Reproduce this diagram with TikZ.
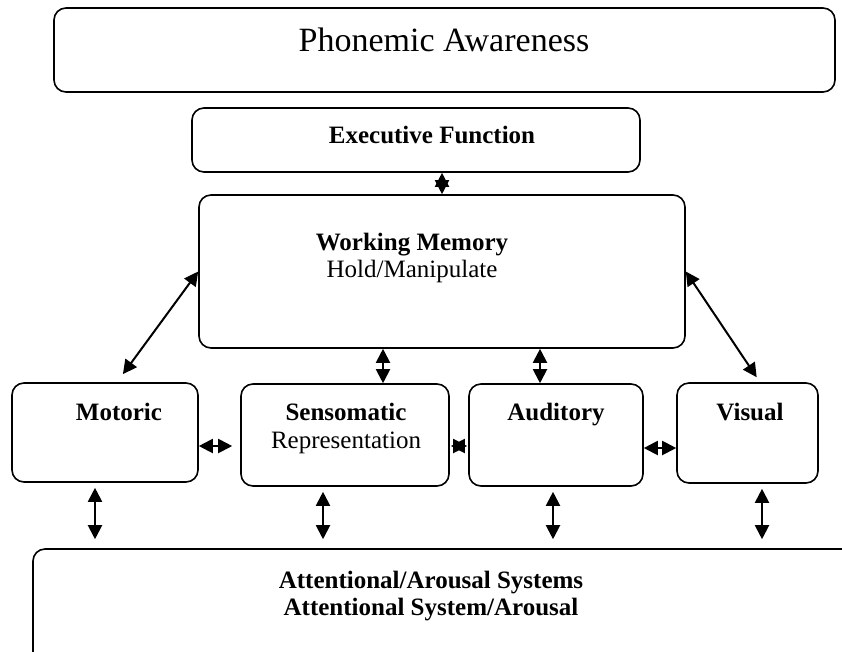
\documentclass[tikz,border=0pt]{standalone}
\usepackage{fontspec}
\setmainfont{Liberation Serif}
\usetikzlibrary{arrows.meta,positioning}

\begin{document}
\begin{tikzpicture}[x=1pt, y=-1pt, >={Triangle[length=14pt,width=14pt]},
  box/.style={draw, line width=1.6pt, rounded corners=12pt},
  title/.style={anchor=base, font=\fontsize{25}{30}\selectfont\bfseries},
  sub/.style={anchor=base, font=\fontsize{25}{30}\selectfont},
  link/.style={<->, line width=2pt}]
  \useasboundingbox (0,0) rectangle (842,651);
  \clip (0,0) rectangle (842,651);

  % top of the stack
  \node[box, minimum width=781pt, minimum height=84pt] (pa) at (444.5,50) {};
  \node[anchor=base, font=\fontsize{34}{40}\selectfont] (paText) at (444,51) {Phonemic Awareness};
  \node[box, minimum width=448pt, minimum height=64pt] (ef) at (416,140) {};
  \node[title] (efText) at (432,143) {Executive Function};
  \node[box, minimum width=486pt, minimum height=153pt] (wm) at (442,271.5) {};
  \node[title] (wmText) at (412,250) {Working Memory};
  \node[sub] (wmSub) at (412,277) {Hold/Manipulate};

  % the four channels
  \node[box, minimum width=186pt, minimum height=99pt] (mot) at (105,432.5) {};
  \node[title] (motText) at (119,420) {Motoric};
  \node[box, minimum width=208pt, minimum height=102pt] (sen) at (345,435) {};
  \node[title] (senText) at (346,420) {Sensomatic};
  \node[sub] (senSub) at (346,448) {Representation};
  \node[box, minimum width=174pt, minimum height=102pt] (aud) at (556,435) {};
  \node[title] (audText) at (556,420) {Auditory};
  \node[box, minimum width=141pt, minimum height=100pt] (vis) at (747.5,433) {};
  \node[title] (visText) at (750,420) {Visual};

  % base, runs off the page
  \node[box, minimum width=827pt, minimum height=121pt] (att) at (446.5,609.5) {};
  \node[title] (attText) at (431,588) {Attentional/Arousal Systems};
  \node[title] (attSub) at (431,615) {Attentional System/Arousal};

  % links
  \draw[link] (ef.south -| wm.north) -- (wm.north);
  \draw[link, shorten >=10pt] (wm.west) -- ([xshift=12pt]mot.north);
  \draw[link, shorten >=6pt] (wm.east) -- ([xshift=12.5pt]vis.north);
  \draw[link] ([xshift=38pt]sen.north) -- ([xshift=38pt]sen.north |- wm.south);
  \draw[link] ([xshift=-16pt]aud.north) -- ([xshift=-16pt]aud.north |- wm.south);
  \draw[link, shorten >=8pt] ([yshift=-13.5pt]mot.east) -- ([yshift=-13.5pt]mot.east -| sen.west);
  \draw[link, shorten <=1pt, shorten >=1pt] ([yshift=-11pt]sen.east) -- ([yshift=-11pt]sen.east -| aud.west);
  \draw[link] ([yshift=-13pt]aud.east) -- ([yshift=-13pt]aud.east -| vis.west);
  \foreach \n/\dx in {mot/-10, sen/-22, aud/-3, vis/14.5}
    \draw[link, shorten <=5pt, shorten >=9pt] ([xshift=\dx pt]\n.south) -- ([xshift=\dx pt]\n.south |- att.north);
\end{tikzpicture}
\end{document}
